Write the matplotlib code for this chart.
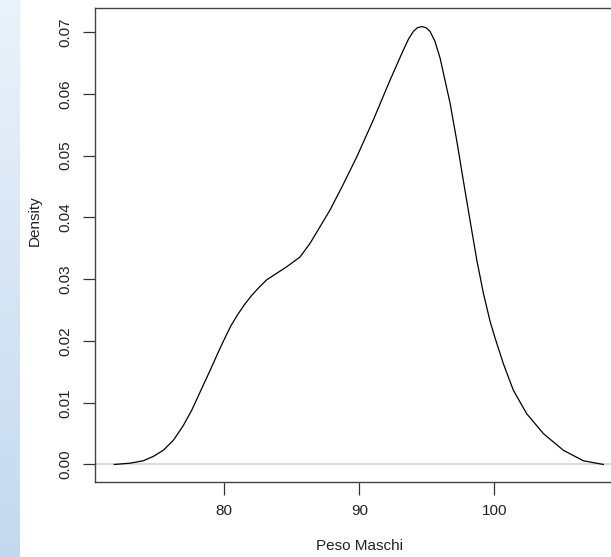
import numpy as np
import matplotlib
matplotlib.use("Agg")
import matplotlib.pyplot as plt
from matplotlib.colors import LinearSegmentedColormap

plt.rcParams['font.family'] = ['Liberation Sans', 'DejaVu Sans']

peso = [71.85, 73.01, 74.00, 74.74, 75.48, 76.22, 76.96, 77.59, 78.20, 78.94, 79.68,
        80.05, 80.50, 81.00, 81.50, 82.00, 82.50, 83.14, 84.62, 85.61, 86.35, 87.09,
        87.83, 88.75, 89.81, 91.04, 92.27, 93.26, 93.65, 94.00, 94.30, 94.62, 94.95,
        95.24, 95.60, 95.98, 96.72, 97.21, 97.70, 98.20, 98.70, 99.19, 99.68, 100.05,
        100.67, 101.41, 102.40, 103.63, 105.11, 106.59, 108.07]
density = [0.0000, 0.0002, 0.0006, 0.0013, 0.0023, 0.0039, 0.0063, 0.0088, 0.0117, 0.0152, 0.0188,
           0.0205, 0.0225, 0.0243, 0.0259, 0.0273, 0.0285, 0.0299, 0.0320, 0.0336, 0.0358, 0.0385,
           0.0412, 0.0451, 0.0498, 0.0558, 0.0622, 0.0671, 0.0689, 0.0701, 0.0707, 0.0709, 0.0707,
           0.0701, 0.0685, 0.0658, 0.0585, 0.0525, 0.0460, 0.0395, 0.0331, 0.0277, 0.0232, 0.0205,
           0.0163, 0.0120, 0.0082, 0.0050, 0.0023, 0.0006, 0.0000]

xticks = [80, 90, 100]
yticks = [0.00, 0.01, 0.02, 0.03, 0.04, 0.05, 0.06, 0.07]
ytick_labels = ["0.00", "0.01", "0.02", "0.03", "0.04", "0.05", "0.06", "0.07"]

W, H = 611, 557
fig = plt.figure(figsize=(W / 100, H / 100), dpi=100)

# blue gradient strip on the left
bg = fig.add_axes([0, 0, 20 / W, 1])
grad = np.linspace(0, 1, 256).reshape(-1, 1)
cmap = LinearSegmentedColormap.from_list("strip", ["#eaf2fa", "#c4d9ef"])
bg.imshow(grad, aspect='auto', cmap=cmap, extent=[0, 1, 1, 0])
bg.set_axis_off()

left, right, top, bottom = 95, 622.6, 8, 482
ax = fig.add_axes([left / W, (H - bottom) / H, (right - left) / W, (bottom - top) / H])
ax.axhline(0, color='#cfcfcf', lw=1.1, zorder=1)
ax.plot(peso, density, color='black', lw=0.9, zorder=2, solid_joinstyle='round')

ax.set_xlim(70.42, 109.5)
ax.set_ylim(-0.00284, 0.0739)
ax.set_xticks(xticks)
ax.set_yticks(yticks)
ax.set_yticklabels(ytick_labels, rotation=90, va='center')
ax.tick_params(axis='both', length=9, width=0.9, color='#333333', labelsize=11,
               labelcolor='#222222', pad=7)
for s in ax.spines.values():
    s.set_color('#444444')
    s.set_linewidth(1.0)

fig.text(360 / W, 1 - 546 / H, "Peso Maschi", ha='center', va='center', fontsize=11, color='#222222')
fig.text(35 / W, 1 - 221 / H, "Density", ha='center', va='center', rotation=90, fontsize=11, color='#222222')

fig.savefig("out.png", dpi=100)
